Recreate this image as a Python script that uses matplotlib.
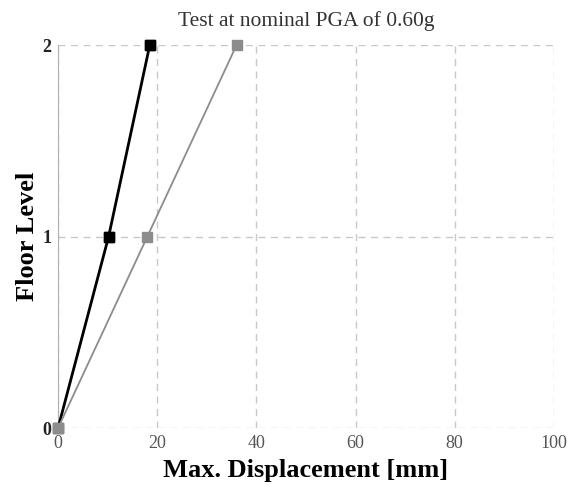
import matplotlib.pyplot as plt

# floor displacement profiles
floors = [0, 1, 2]
disp_a = [0, 10.2, 18.5]   # black series
disp_b = [0, 18.0, 36.0]   # grey series

plt.rcParams['font.family'] = ['Liberation Serif', 'DejaVu Serif']

fig = plt.figure(figsize=(5.71, 4.86), dpi=100)
ax = fig.add_axes([0.1016, 0.119, 0.8684, 0.788])

ax.plot(disp_a, floors, color='black', lw=2.0, marker='s', ms=7,
        mfc='black', mec='black', zorder=4, clip_on=False)
ax.plot(disp_b, floors, color='#8c8c8c', lw=1.3, marker='s', ms=7,
        mfc='#8c8c8c', mec='#8c8c8c', zorder=5, clip_on=False)
# black markers above the grey line except at the shared origin
ax.plot(disp_a[1:], floors[1:], ls='none', marker='s', ms=7,
        mfc='black', mec='black', zorder=6, clip_on=False)

ax.set_xlim(0, 100)
ax.set_ylim(0, 2)
ax.set_xticks([0, 20, 40, 60, 80, 100])
ax.set_yticks([0, 1, 2])
ax.grid(True, ls=(0, (5, 4)), color='#c8c8c8', lw=1.0)
for s in ['top', 'right', 'bottom']:
    ax.spines[s].set_visible(False)
ax.spines['left'].set_color('#b0b0b0')
ax.tick_params(length=0, labelsize=13, colors='#555555', pad=5)
ax.tick_params(axis='y', colors='#222222')
for lbl in ax.get_yticklabels():
    lbl.set_fontweight('bold')

ax.set_title('Test at nominal PGA of 0.60g', fontsize=15.5, color='#333333', pad=14)
ax.set_xlabel('Max. Displacement [mm]', fontsize=19, fontweight='bold', labelpad=5)
ax.set_ylabel('Floor Level', fontsize=19, fontweight='bold', labelpad=2)

fig.savefig('out.png', dpi=100)
